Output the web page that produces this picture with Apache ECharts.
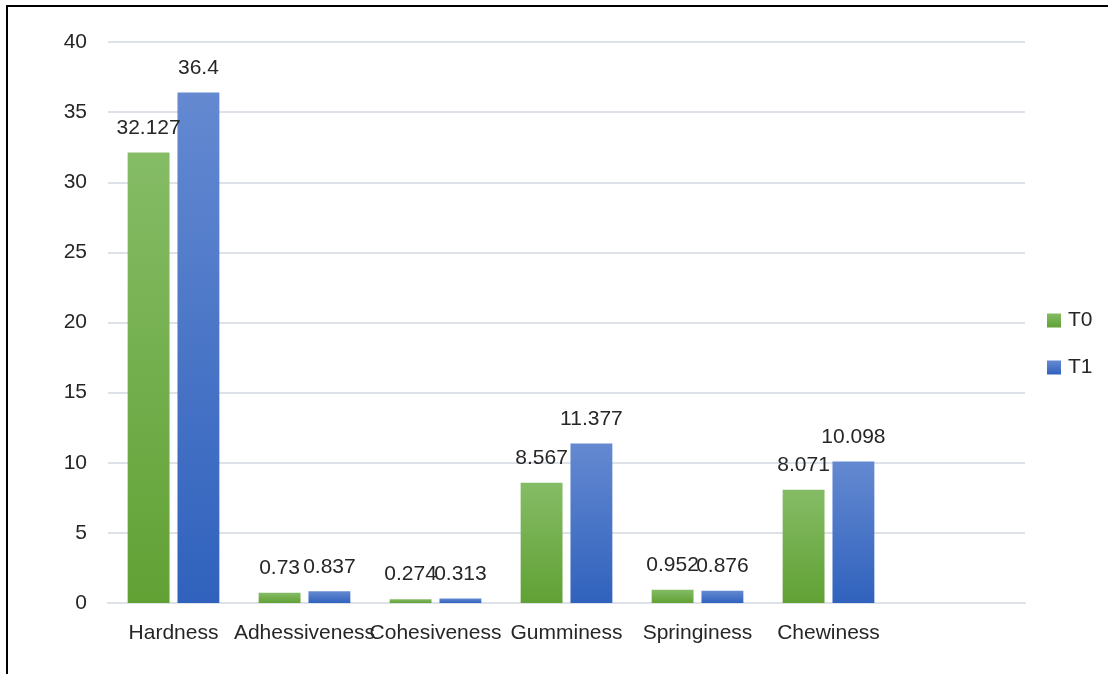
<!DOCTYPE html>
<html>
<head>
<meta charset="utf-8">
<script src="https://cdn.jsdelivr.net/npm/echarts@6/dist/echarts.min.js"></script>
<style>
  html, body { margin: 0; padding: 0; background: #fff; }
  #chart { width: 1108px; height: 674px; }
</style>
</head>
<body>
<div id="chart"></div>
<script>
// Texture profile measurements
const categories = ['Hardness', 'Adhessiveness', 'Cohesiveness', 'Gumminess', 'Springiness', 'Chewiness', ''];
const t0Values = [32.127, 0.73, 0.274, 8.567, 0.952, 8.071];
const t1Values = [36.4, 0.837, 0.313, 11.377, 0.876, 10.098];
const seriesNames = ['T0', 'T1'];

const FONT = '"Liberation Sans", Arial, sans-serif';
const TEXT = '#262626';
const FS = 21;

function grad(top, bottom) {
  return new echarts.graphic.LinearGradient(0, 0, 0, 1, [
    { offset: 0, color: top },
    { offset: 1, color: bottom }
  ]);
}

const chart = echarts.init(document.getElementById('chart'), null, { renderer: 'canvas' });

const labelStyle = {
  show: true,
  position: 'top',
  distance: 14,
  color: TEXT,
  fontFamily: FONT,
  fontSize: FS
};

chart.setOption({
  animation: false,
  backgroundColor: '#fff',
  textStyle: { fontFamily: FONT },
  graphic: [{
    type: 'rect',
    shape: { x: 7, y: 6, width: 1300, height: 1000 },
    style: { fill: 'none', stroke: '#000', lineWidth: 2 },
    silent: true
  }],
  grid: { left: 108, right: 83, top: 42, bottom: 71 },
  legend: {
    orient: 'vertical',
    left: 1042,
    top: 305,
    itemWidth: 14,
    itemHeight: 14,
    itemGap: 26,
    icon: 'rect',
    textStyle: { color: TEXT, fontFamily: FONT, fontSize: FS, padding: [0, 0, 0, 2] },
    data: seriesNames
  },
  xAxis: {
    type: 'category',
    data: categories,
    axisLine: { lineStyle: { color: '#dde1e8', width: 2 } },
    axisTick: { show: false },
    axisLabel: { interval: 0, color: TEXT, fontFamily: FONT, fontSize: FS, margin: 20 }
  },
  yAxis: {
    type: 'value',
    min: 0,
    max: 40,
    interval: 5,
    axisLine: { show: false },
    axisTick: { show: false },
    axisLabel: { color: TEXT, fontFamily: FONT, fontSize: FS, margin: 21 },
    splitLine: { lineStyle: { color: '#dde1e8', width: 2 } }
  },
  series: [
    {
      name: seriesNames[0],
      type: 'bar',
      data: t0Values,
      barGap: '19%',
      barCategoryGap: '30%',
      itemStyle: { color: grad('#85bc66', '#61a134') },
      label: labelStyle
    },
    {
      name: seriesNames[1],
      type: 'bar',
      data: t1Values,
      itemStyle: { color: grad('#6489d1', '#3062bd') },
      label: labelStyle
    }
  ]
});
</script>
</body>
</html>
